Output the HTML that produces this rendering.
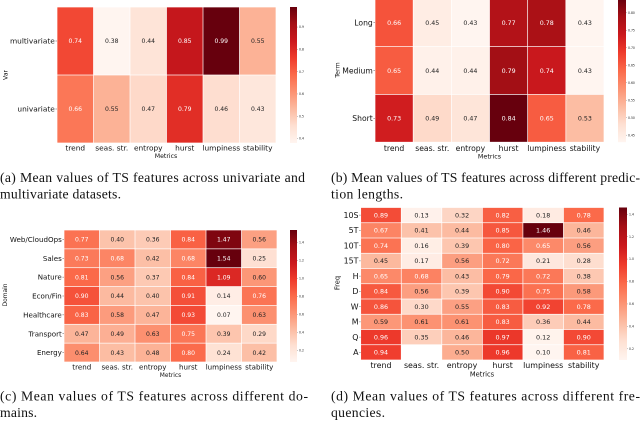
<!DOCTYPE html>
<html>
<head>
<meta charset="utf-8">
<title>Mean values of TS features</title>
<style>
html,body{margin:0;padding:0;background:#fff;width:640px;height:421px;overflow:hidden}
svg{display:block;filter:blur(0.3px)}
text{font-family:"DejaVu Sans",sans-serif}
text.cap{font-family:"Liberation Serif",serif;font-size:13.7px;fill:#111}
</style>
</head>
<body>
<svg id="fig" xmlns="http://www.w3.org/2000/svg" width="640" height="421" viewBox="0 0 640 421">
<defs>
<linearGradient id="reds" x1="0" y1="1" x2="0" y2="0">
<stop offset="0" stop-color="#fff5f0"/><stop offset="0.125" stop-color="#fee0d2"/><stop offset="0.25" stop-color="#fcbba1"/><stop offset="0.375" stop-color="#fc9272"/><stop offset="0.5" stop-color="#fb6a4a"/><stop offset="0.625" stop-color="#ef3b2c"/><stop offset="0.75" stop-color="#cb181d"/><stop offset="0.875" stop-color="#a50f15"/><stop offset="1" stop-color="#67000d"/>
</linearGradient>
</defs>
<g id="charts"></g>
<text class="cap" x="0" y="182" textLength="305" lengthAdjust="spacing">(a) Mean values of TS features across univariate and</text>
<text class="cap" x="0" y="198.5" textLength="121" lengthAdjust="spacing">multivariate datasets.</text>
<text class="cap" x="331" y="182" textLength="309" lengthAdjust="spacing">(b) Mean values of TS features across different predic-</text>
<text class="cap" x="331" y="198.5" textLength="72" lengthAdjust="spacing">tion lengths.</text>
<text class="cap" x="0" y="400.5" textLength="308" lengthAdjust="spacing">(c) Mean values of TS features across different do-</text>
<text class="cap" x="0" y="417" textLength="37" lengthAdjust="spacing">mains.</text>
<text class="cap" x="331" y="400.5" textLength="309" lengthAdjust="spacing">(d) Mean values of TS features across different fre-</text>
<text class="cap" x="331" y="417" textLength="54" lengthAdjust="spacing">quencies.</text>
</svg>
<script>
var metrics = ["trend", "seas. str.", "entropy", "hurst", "lumpiness", "stability"];

var varRows = ["multivariate", "univariate"];
var varValues = [
  [0.74, 0.38, 0.44, 0.85, 0.99, 0.55],
  [0.66, 0.55, 0.47, 0.79, 0.46, 0.43]
];
var varTicks = [0.4, 0.5, 0.6, 0.7, 0.8, 0.9];

var termRows = ["Long", "Medium", "Short"];
var termValues = [
  [0.66, 0.45, 0.43, 0.77, 0.78, 0.43],
  [0.65, 0.44, 0.44, 0.79, 0.74, 0.43],
  [0.73, 0.49, 0.47, 0.84, 0.65, 0.53]
];
var termTicks = [0.45, 0.50, 0.55, 0.60, 0.65, 0.70, 0.75, 0.80];

var domainRows = ["Web/CloudOps", "Sales", "Nature", "Econ/Fin", "Healthcare", "Transport", "Energy"];
var domainValues = [
  [0.77, 0.40, 0.36, 0.84, 1.47, 0.56],
  [0.73, 0.68, 0.42, 0.68, 1.54, 0.25],
  [0.81, 0.56, 0.37, 0.84, 1.09, 0.60],
  [0.90, 0.44, 0.40, 0.91, 0.14, 0.76],
  [0.83, 0.58, 0.47, 0.93, 0.07, 0.63],
  [0.47, 0.49, 0.63, 0.75, 0.39, 0.29],
  [0.64, 0.43, 0.48, 0.80, 0.24, 0.42]
];
var domainTicks = [0.2, 0.4, 0.6, 0.8, 1.0, 1.2, 1.4];

var freqRows = ["10S", "5T", "10T", "15T", "H", "D", "W", "M", "Q", "A"];
var freqValues = [
  [0.89, 0.13, 0.32, 0.82, 0.18, 0.78],
  [0.67, 0.41, 0.44, 0.85, 1.46, 0.46],
  [0.74, 0.16, 0.39, 0.80, 0.65, 0.56],
  [0.45, 0.17, 0.56, 0.72, 0.21, 0.28],
  [0.65, 0.68, 0.43, 0.79, 0.72, 0.38],
  [0.84, 0.56, 0.39, 0.90, 0.75, 0.58],
  [0.86, 0.30, 0.55, 0.83, 0.92, 0.78],
  [0.59, 0.61, 0.61, 0.83, 0.36, 0.44],
  [0.96, 0.35, 0.46, 0.97, 0.12, 0.90],
  [0.94, null, 0.50, 0.96, 0.10, 0.81]
];
var freqTicks = [0.2, 0.4, 0.6, 0.8, 1.0, 1.2, 1.4];

var redsRamp = [[255,245,240],[254,224,210],[252,187,161],[252,146,114],[251,106,74],[239,59,44],[203,24,29],[165,15,21],[103,0,13]];

var panels = [
  {id:"var", title:"Var", rows:varRows, values:varValues, ticks:varTicks, digits:1,
   x0:57, x1:276, y0:7, y1:143, cbX:290, cbW:7, titleX:5.5, titleY:75, labelY:148, metricsY:156, metricsX:166,
   labelFont:7.4, valueFont:6.1, titleFont:6.2},
  {id:"term", title:"Term", rows:termRows, values:termValues, ticks:termTicks, digits:2,
   x0:375, x1:604, y0:-1.2, y1:142.2, cbX:618, cbW:8, titleX:337, titleY:70, labelY:148, metricsY:156, metricsX:489.5,
   labelFont:7.65, valueFont:6.3, titleFont:6.4},
  {id:"domain", title:"Domain", rows:domainRows, values:domainValues, ticks:domainTicks, digits:1,
   x0:64, x1:277, y0:230, y1:362, cbX:290, cbW:7, titleX:5, titleY:295, labelY:367, metricsY:375, metricsX:170.5,
   labelFont:7.1, valueFont:6.1, titleFont:5.9},
  {id:"freq", title:"Freq", rows:freqRows, values:freqValues, ticks:freqTicks, digits:1,
   x0:360.7, x1:604, y0:207.5, y1:360, cbX:619, cbW:8, titleX:337, titleY:283, labelY:365, metricsY:374, metricsX:482,
   labelFont:7.9, valueFont:6.4, titleFont:6.7}
];

var NS = "http://www.w3.org/2000/svg";
var root = document.getElementById("charts");

function make(parent, tag, attrs, txt) {
  var el = document.createElementNS(NS, tag);
  for (var k in attrs) el.setAttribute(k, attrs[k]);
  if (txt !== undefined) el.textContent = txt;
  parent.appendChild(el);
  return el;
}
function redsColor(t) {
  t = Math.max(0, Math.min(1, t));
  var p = t * (redsRamp.length - 1), i = Math.min(Math.floor(p), redsRamp.length - 2), f = p - i;
  return redsRamp[i].map(function (c, j) { return c + (redsRamp[i + 1][j] - c) * f; });
}
function luminance(rgb) {
  var l = rgb.map(function (c) { c /= 255; return c <= 0.03928 ? c / 12.92 : Math.pow((c + 0.055) / 1.055, 2.4); });
  return 0.2126 * l[0] + 0.7152 * l[1] + 0.0722 * l[2];
}

panels.forEach(function (p) {
  var flat = [];
  p.values.forEach(function (r) { r.forEach(function (v) { if (v !== null) flat.push(v); }); });
  var vmin = Math.min.apply(null, flat), vmax = Math.max.apply(null, flat);
  var colW = (p.x1 - p.x0) / metrics.length, rowH = (p.y1 - p.y0) / p.rows.length;
  var xPos = function (j) { return p.x0 + j * colW; };
  var yPos = function (i) { return p.y0 + i * rowH; };
  var norm = function (v) { return (v - vmin) / (vmax - vmin); };
  var cbY = function (v) { return p.y1 - norm(v) * (p.y1 - p.y0); };

  var g = make(root, "g", {});
  
  

  p.values.forEach(function (row, i) {
    row.forEach(function (v, j) {
      if (v === null) return;
      var rgb = redsColor(norm(v));
      var cell = make(g, "rect", {x: xPos(j) + 0.35, y: yPos(i) + 0.35, width: colW - 0.7, height: rowH - 0.7,
        fill: "rgb(" + rgb.map(Math.round).join(",") + ")"});
      
      
      var label = make(g, "text", {x: xPos(j) + colW / 2, y: yPos(i) + rowH / 2 + p.valueFont * 0.36, "text-anchor": "middle", "font-size": p.valueFont,
        fill: luminance(rgb) < 0.408 ? "#fff" : "#222"}, v.toFixed(2));
      
      
    });
  });

  p.rows.forEach(function (name, i) {
    var cy = yPos(i) + rowH / 2;
    var tick = make(g, "line", {x1: p.x0 - 1.6, x2: p.x0, y1: cy, y2: cy, stroke: "#333", "stroke-width": 0.4});
    
    
    var label = make(g, "text", {x: p.x0 - 2.2, y: cy + p.labelFont * 0.36, "text-anchor": "end", "font-size": p.labelFont, fill: "#111"}, name);
    
    
  });

  metrics.forEach(function (name, j) {
    var label = make(g, "text", {x: xPos(j) + colW / 2, y: p.labelY + p.labelFont * 0.36, "text-anchor": "middle", "font-size": p.labelFont, fill: "#111"}, name);
    
    
  });

  var xTitle = make(g, "text", {x: p.metricsX, y: p.metricsY + p.titleFont * 0.36, "text-anchor": "middle", "font-size": p.titleFont, fill: "#111"}, "Metrics");
  
  
  var tx = p.titleX + p.titleFont * 0.36;
  var yTitle = make(g, "text", {x: tx, y: p.titleY, "text-anchor": "middle", "font-size": p.titleFont, fill: "#111",
    transform: "rotate(-90 " + tx + " " + p.titleY + ")"}, p.title);
  
  

  var bar = make(g, "rect", {x: p.cbX, y: p.y0, width: p.cbW, height: p.y1 - p.y0, fill: "url(#reds)"});
  
  
  p.ticks.forEach(function (t) {
    var y = cbY(t);
    var mark = make(g, "line", {x1: p.cbX + p.cbW, x2: p.cbX + p.cbW + 1, y1: y, y2: y, stroke: "#444", "stroke-width": 0.3});
    
    
    var label = make(g, "text", {x: p.cbX + p.cbW + 2, y: y + 1.1, "font-size": 3.1, fill: "#222"}, t.toFixed(p.digits));
    
    
  });
});
</script>
</body>
</html>
